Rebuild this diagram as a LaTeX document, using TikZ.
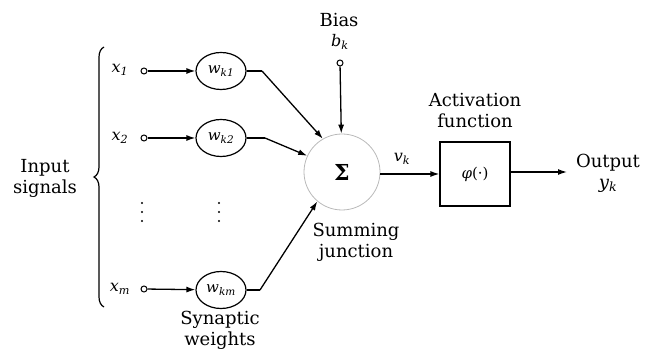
\documentclass[tikz,border=0pt]{standalone}
\usepackage{fontspec}
\setmainfont{DejaVu Serif}
\usetikzlibrary{arrows.meta,decorations.pathreplacing,shapes.geometric}
\newcommand{\vsub}[2]{\textit{#1}\textsubscript{\textit{#2}}}
\begin{document}
\begin{tikzpicture}[x=1pt,y=-1pt,
  lbl/.style={font=\fontsize{18}{21}\selectfont, align=center, inner sep=0pt},
  mlbl/.style={font=\fontsize{16}{18}\selectfont, inner sep=0pt},
  wnode/.style={draw, line width=1.2pt, ellipse, minimum width=50pt, minimum height=37pt, inner sep=0pt, font=\fontsize{15}{17}\selectfont},
  term/.style={draw, line width=1pt, circle, minimum size=6pt, inner sep=0pt, fill=white},
  dotn/.style={circle, fill, minimum size=2.4pt, inner sep=0pt},
  conn/.style={line width=1.3pt, -{Latex[length=9pt,width=6pt]}},
  plain/.style={line width=1.3pt}]
\useasboundingbox (0,0) rectangle (655,352);
% brace
\draw[line width=1.2pt, decorate, decoration={brace, amplitude=10pt, mirror}] (104,47) -- (104,307);
\node[lbl] (inp) at (45,178) {Input\\signals};
% inputs
\node[mlbl] (x1l) at (120,70) {\vsub{x}{1}};
\node[mlbl] (x2l) at (120,138) {\vsub{x}{2}};
\node[mlbl] (xml) at (120,289) {\vsub{x}{m}};
\node[term] (x1) at (144,71) {};
\node[term] (x2) at (144,138) {};
\node[term] (xm) at (144,289) {};
\node[wnode] (w1) at (221,71) {\vsub{w}{k1}};
\node[wnode] (w2) at (221,138) {\vsub{w}{k2}};
\node[wnode] (wm) at (221,290) {\vsub{w}{km}};
\foreach \i/\yy in {1/203,2/212,3/221}{
  \node[dotn] (da\i) at (142,\yy) {};
  \node[dotn] (db\i) at (219,\yy) {};
}
\node[lbl] (syn) at (220,330) {Synaptic\\weights};
% summing junction
\node[draw=gray!55, line width=0.8pt, circle, minimum size=76pt, inner sep=0pt, font=\fontsize{22}{24}\selectfont\bfseries] (sum) at (342,172) {Σ};
\node[lbl] (sj) at (356,242) {Summing\\junction};
% bias
\node[lbl] (bias) at (339,20) {Bias};
\node[mlbl] (bk) at (340,42) {\vsub{b}{k}};
\node[term] (bc) at (340,63) {};
\draw[conn] (bc) -- (sum);
% weight to sum
\coordinate (c1) at (262,71);
\coordinate (c2) at (265,138);
\coordinate (cm) at (260,290);
\draw[conn] (x1) -- (w1);
\draw[conn] (x2) -- (w2);
\draw[conn] (xm) -- (wm);
\draw[plain] (w1.east) -- (c1);
\draw[conn] (c1) -- (sum.120);
\draw[plain] (w2.east) -- (c2);
\draw[conn] (c2) -- (sum.155);
\draw[plain] (wm.east) -- (cm);
\draw[conn] (cm) -- (sum.230);
% activation
\node[draw, line width=1.2pt, minimum width=70pt, minimum height=64pt, inner sep=0pt, font=\fontsize{15}{17}\selectfont] (act) at (475,174) {\textit{φ}(·)};
\node[lbl] (actl) at (475,111) {Activation\\function};
\draw[conn] (sum.east |- act.west) -- (act.west);
\node[mlbl] (vk) at (402,159) {\vsub{v}{k}};
\coordinate (out) at (567,172);
\draw[conn] (act.east |- out) -- (out);
\node[lbl] (outl) at (608,173) {Output\\\vsub{y}{k}};
\end{tikzpicture}
\end{document}
